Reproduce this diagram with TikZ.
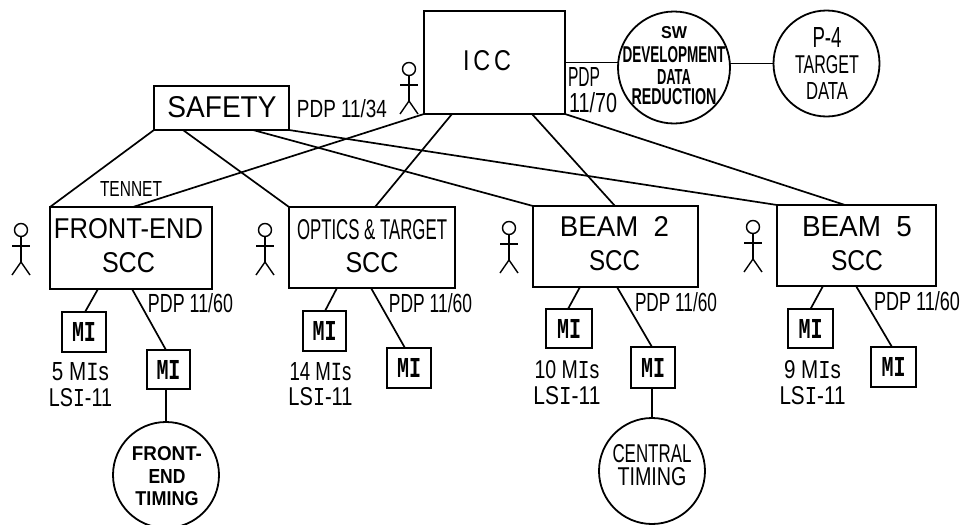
\documentclass[tikz,border=0pt]{standalone}
\usepackage{graphicx}
\usepackage{fontspec}
\setmainfont{Liberation Sans}
\setmonofont{Liberation Mono}
\newcommand\T[3]{\resizebox{#1pt}{#2pt}{#3}}
\newcommand\Tb[3]{\resizebox{#1pt}{#2pt}{\bfseries #3}}
\newcommand\sI{{\ttfamily I}}
\newcommand\MIlabel{\T{24}{19}{\ttfamily\bfseries MI}}
\tikzset{
  ln/.style={line width=1.7pt,line cap=round,line join=miter},
  boxn/.style={draw,line width=1.9pt,rectangle,inner sep=0pt,outer sep=0pt},
  minode/.style={boxn,minimum width=44pt,minimum height=40pt},
  circn/.style={draw,line width=1.8pt,circle,inner sep=0pt,outer sep=0pt},
  lbl/.style={inner sep=0pt,outer sep=0pt,align=center},
  linegap/.style={font=\fontsize{10}{#1}\selectfont},
  person/.pic={
    \draw[line width=1.4pt] (0,0) circle (6.5);
    \draw[line width=1.4pt] (0,6.5) -- (0,32);
    \draw[line width=1.4pt] (-9,16) -- (9,16);
    \draw[line width=1.4pt] (-9,45) -- (0,32) -- (9,45);
  }
}
\begin{document}
\begin{tikzpicture}[x=1pt,y=-1pt]
\useasboundingbox (0,0) rectangle (967,525);
% boxes
\node[boxn,minimum width=135pt,minimum height=44pt] (safety) at (221.5,108) {};
\node[boxn,minimum width=141pt,minimum height=103pt] (icc) at (494.5,62.5) {};
\node[boxn,minimum width=162pt,minimum height=82pt] (fe) at (131,248) {};
\node[boxn,minimum width=166pt,minimum height=81pt] (opt) at (372,247.5) {};
\node[boxn,minimum width=165pt,minimum height=81pt] (bb) at (615.5,246.5) {};
\node[boxn,minimum width=159pt,minimum height=81pt] (bf) at (856.5,245.5) {};
% MI boxes
\node[minode] (f1) at (84,332) {\MIlabel};
\node[minode,minimum width=43pt,minimum height=39pt] (f2) at (168.5,369.5) {\MIlabel};
\node[minode,minimum width=43pt] (o1) at (324.5,331) {\MIlabel};
\node[minode] (o2) at (409,368) {\MIlabel};
\node[minode,minimum width=46pt,minimum height=39pt] (b1) at (569,328.5) {\MIlabel};
\node[minode,minimum height=41pt] (b2) at (653,367.5) {\MIlabel};
\node[minode,minimum width=45pt,minimum height=39pt] (c1) at (810.5,328.5) {\MIlabel};
\node[minode,minimum width=45pt] (c2) at (893.5,367) {\MIlabel};
% circles
\node[circn,minimum size=112pt] (sw) at (674,67.5) {};
\node[circn,minimum size=106pt] (p4) at (826.5,63.5) {};
\node[circn,minimum size=106pt] (fet) at (166,475) {};
\node[circn,minimum size=106pt] (ct) at (652,471) {};
% network connectors
\draw[ln] (safety.south west) -- (fe.north west);
\draw[ln] ([xshift=29pt]safety.south west) -- (opt.north west);
\draw[ln] ([xshift=99pt]safety.south west) -- (bb.north west);
\draw[ln] (safety.south east) -- (bf.north west);
\draw[ln] (icc.south west) -- ([xshift=83pt]fe.north west);
\draw[ln] ([xshift=28pt]icc.south west) -- ([xshift=86pt]opt.north west);
\draw[ln] ([xshift=108pt]icc.south west) -- ([xshift=82pt]bb.north west);
\draw[ln] (icc.south east) -- ([xshift=68pt]bf.north west);
\draw[ln] (icc.east) -- (icc.east -| sw.west);
\draw[ln] (p4.west -| sw.east) -- (p4.west);
% SCC to MI
\draw[ln] ([xshift=48pt]fe.south west) -- ([xshift=1pt]f1.north);
\draw[ln] ([xshift=82pt]fe.south west) -- ([xshift=-2.5pt]f2.north);
\draw[ln] ([xshift=-2.5pt]f2.south) -- (fet.north);
\draw[ln] ([xshift=48pt]opt.south west) -- ([xshift=0.5pt]o1.north);
\draw[ln] ([xshift=82pt]opt.south west) -- ([xshift=-4pt]o2.north);
\draw[ln] ([xshift=47pt]bb.south west) -- ([xshift=-1pt]b1.north);
\draw[ln] ([xshift=84pt]bb.south west) -- ([xshift=-1pt]b2.north);
\draw[ln] ([xshift=-1pt]b2.south) -- (ct.north);
\draw[ln] ([xshift=46pt]bf.south west) -- (c1.north);
\draw[ln] ([xshift=79pt]bf.south west) -- ([xshift=-1.5pt]c2.north);
% operators
\pic at (409,69) {person};
\pic at (21,230) {person};
\pic at (265,230) {person};
\pic at (509,228) {person};
\pic at (753,227) {person};
% labels
\node[lbl] (tsafety) at (222,107) {\T{109}{21}{SAFETY}};
\node[lbl] (ticc) at (487,61) {\T{48}{20}{I\,C\,C}};
\node[lbl] (t34) at (342,109) {\T{90}{18}{PDP 11/34}};
\node[lbl] (t70a) at (584,77) {\T{32}{19}{PDP}};
\node[lbl] (t70b) at (593,103) {\T{48}{20}{11/70}};
\node[lbl] (ttennet) at (131,189) {\T{62}{15}{TENNET}};
\node[lbl,linegap=34] (tfe) at (128.5,246) {\T{149}{20}{FRONT-END}\\\T{53}{20}{SCC}};
\node[lbl,linegap=33] (topt) at (372,246.5) {\T{150}{20}{OPTICS \& TARGET}\\\T{53}{20}{SCC}};
\node[lbl,linegap=34] (tbb) at (614.5,244) {\T{109}{20}{BEAM\ \ 2}\\\T{51}{20}{SCC}};
\node[lbl,linegap=34] (tbf) at (857,244) {\T{110}{20}{BEAM\ \ 5}\\\T{52}{20}{SCC}};
\node[lbl] (p1) at (190.5,303) {\T{85}{19}{PDP 11/60}};
\node[lbl] (p2) at (430.5,303) {\T{83}{19}{PDP 11/60}};
\node[lbl] (p3) at (676,302) {\T{82}{19}{PDP 11/60}};
\node[lbl] (p4l) at (917,301) {\T{86}{19}{PDP 11/60}};
\node[lbl,linegap=26] (m1) at (80.5,385) {\T{57}{18}{5 M\sI{}s}\\\T{63}{18}{LS\sI-11}};
\node[lbl,linegap=25] (m2) at (320.5,384.5) {\T{62}{18}{14 M\sI{}s}\\\T{64}{18}{LS\sI-11}};
\node[lbl,linegap=26] (m3) at (567,383) {\T{65}{18}{10 M\sI{}s}\\\T{67}{18}{LS\sI-11}};
\node[lbl,linegap=26] (m4) at (812.5,383) {\T{57}{18}{9 M\sI{}s}\\\T{66}{18}{LS\sI-11}};
\node[lbl,linegap=20] (tsw) at (674,65.5) {\Tb{26}{12}{SW}\\[4pt]\Tb{103}{16}{DEVELOPMENT}\\[2pt]\Tb{34}{15}{DATA}\\\Tb{85}{16}{REDUCTION}};
\node[lbl,linegap=26] (tp4) at (827,63) {\T{29}{20}{P-4}\\\T{64}{18}{TARGET}\\\T{42}{17}{DATA}};
\node[lbl,linegap=22.5] (tfet) at (167,476.5) {\Tb{70}{14}{FRONT-}\\\Tb{37}{14}{END}\\\Tb{63}{14}{TIMING}};
\node[lbl,linegap=23] (tct) at (652,465.5) {\T{79}{18}{CENTRAL}\\\T{69}{18}{TIMING}};
\end{tikzpicture}
\end{document}
